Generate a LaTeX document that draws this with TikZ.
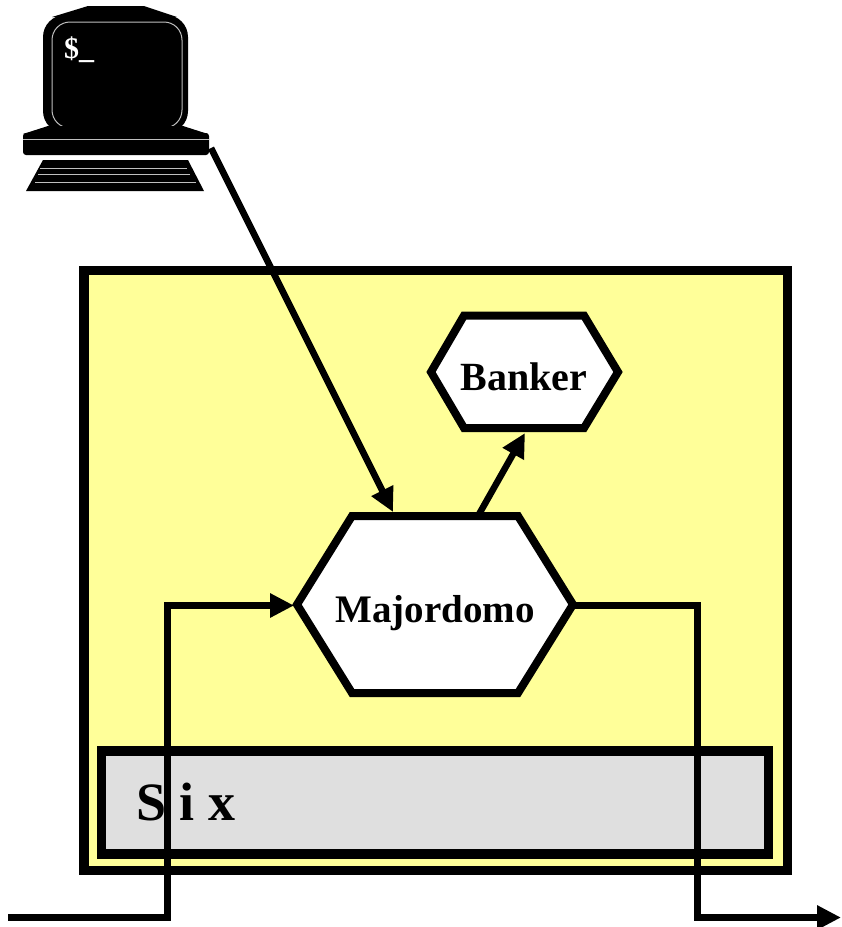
\documentclass[tikz,border=0pt]{standalone}
\usepackage{fontspec}
\setmainfont{Liberation Serif}
\usetikzlibrary{arrows.meta}
\definecolor{paleyellow}{RGB}{255,255,153}
\definecolor{lightgrey}{RGB}{223,223,223}

\begin{document}
\begin{tikzpicture}[x=1pt,y=1pt,yscale=-1,xscale=1,
  wire/.style={line width=6.5pt,line join=miter},
  flow/.style={wire,-{Triangle[length=24pt,width=23pt]}},
  hexa/.style={line width=8pt,fill=white,line join=miter},
  hostline/.style={line width=1pt,draw=black!25},
  lbl/.style={inner sep=0pt,anchor=base,font=\bfseries\fontsize{39}{40}\selectfont}]
\useasboundingbox (0,0) rectangle (842,927);
% terminal
\fill (88,6) -- (144,6) -- (177,17) -- (52,17) -- cycle ;
\fill[rounded corners=22pt] (43,15) rectangle (188,133);
\draw[hostline, rounded corners=18pt] (52,22) rectangle (182,128);
\fill (48,126) -- (183,126) -- (208,134) -- (23,134) -- cycle ;
\fill[rounded corners=3pt] (23,133) rectangle (209,155);
\draw[hostline] (23,139.5) -- (209,139.5) ;
\fill (43,160) -- (188,160) -- (204,191) -- (26,191) -- cycle ;
\draw[hostline] (40,168) -- (187,168) ;
\draw[hostline] (38,174.5) -- (190,174.5) ;
\draw[hostline] (35,182) -- (196,182) ;
\node[inner sep=0pt,anchor=base west,text=white,font=\bfseries\fontsize{30}{30}\selectfont] (prompt) at (64,58) {\$\_};
\coordinate (pcport) at (211,148);
% host box and Six layer
\draw[line width=9.5pt, fill=paleyellow] (84,270.5) rectangle (787.5,870.5);
\draw[line width=9.5pt, fill=lightgrey] (101.5,751) rectangle (768.5,854);
\node[inner sep=0pt,anchor=base west,font=\bfseries\fontsize{54}{54}\selectfont] (six) at (136,820) {S i x};
% agents
\draw[hexa] (297,604.5) -- (352,516) -- (518,516) -- (573,604.5) -- (518,693) -- (352,693) -- cycle ;
\node[lbl] (maj) at (435,622) {Majordomo};
\draw[hexa] (431,372) -- (464,315.5) -- (584,315.5) -- (618,372) -- (584,428) -- (464,428) -- cycle ;
\node[lbl,font=\bfseries\fontsize{40}{40}\selectfont] (bank) at (524,390) {Banker};
\coordinate (majin) at (393,512);
\coordinate (majup) at (478,516);
\coordinate (bankin) at (525,433);
\coordinate (majW) at (294,605.5);
\coordinate (majE) at (573,605.5);
\coordinate (inlet) at (8,917.5);
\coordinate (inbend) at (167.5,605.5);
\coordinate (outbend) at (697.5,917.5);
\coordinate (outlet) at (841,917.5);
% messages
\draw[flow] (pcport) -- (majin) ;
\draw[flow] (majup) -- (bankin) ;
\draw[flow] (inlet) -| (inbend) -- (majW) ;
\draw[flow] (majE) -| (outbend) -- (outlet) ;
\end{tikzpicture}
\end{document}
